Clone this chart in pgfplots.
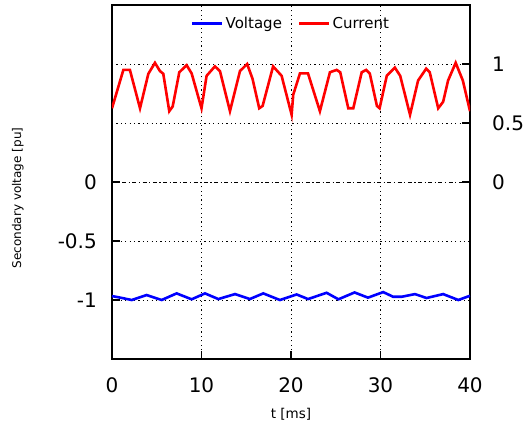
\documentclass[border=0pt]{standalone}
\usepackage{fontspec}
\setmainfont{DejaVu Sans}
\usepackage{pgfplots}
\pgfplotsset{compat=1.18}
\definecolor{vblue}{RGB}{0,0,255}
\definecolor{cred}{RGB}{255,0,0}
\newcommand{\tickfont}{\fontsize{20}{24}\selectfont}
\newcommand{\ylabfont}{\fontsize{12}{15}\selectfont}
\newcommand{\xlabfont}{\fontsize{13.5}{16}\selectfont}
\newcommand{\legfont}{\fontsize{15}{18}\selectfont}
\begin{document}
\begin{tikzpicture}
\pgfplotsset{
  common/.style={
    scale only axis, width=358pt, height=354pt,
    xmin=0, xmax=40, ymin=-1.5, ymax=1.5,
    axis line style={line width=1.1pt},
    major tick length=8pt, tick style={line width=1.1pt, black},
    tick align=inside,
    /pgf/number format/assume math mode=true,
    ticklabel style={font=\tickfont},
    grid style={black, line width=0.9pt, dash pattern=on 1.2pt off 3.2pt},
  }
}
% right-hand ticks and upper grid lines
\begin{axis}[common,
  xtick=\empty,
  ytick={0.5,1}, yticklabels={0.5,1},
  ytick pos=right, yticklabel pos=right,
  yticklabel style={inner sep=0pt, anchor=west, xshift=22pt},
  extra y ticks={0}, extra y tick labels={0},
  extra y tick style={grid=none},
  ymajorgrids,
]
\end{axis}
\begin{axis}[common, name=ax,
  xtick={0,10,20,30,40}, xticklabels={0,10,20,30,40},
  xtick pos=bottom,
  xticklabel style={inner sep=0pt, anchor=north, yshift=-18pt},
  ytick={-1,-0.5}, yticklabels={-1,-0.5},
  ytick pos=left,
  yticklabel style={inner sep=0pt, anchor=east, xshift=-15pt},
  extra y ticks={0}, extra y tick labels={0},
  extra y tick style={
    grid style={black, line width=0.9pt, dash pattern=on 4pt off 2.5pt on 1.2pt off 2.5pt}},
  xmajorgrids, ymajorgrids,
  xlabel={t [ms]},
  xlabel style={font=\xlabfont, at={(rel axis cs:0.5,0)}, anchor=center, yshift=-55pt},
  ylabel={Secondary voltage [pu]},
  ylabel style={font=\ylabfont, at={(rel axis cs:-0.263,0.455)}, anchor=center, rotate=0},
  legend columns=2,
  legend style={draw=none, fill=none, font=\legfont,
    at={(0.5,0.948)}, anchor=center,
    /tikz/every even column/.append style={column sep=14pt}},
  legend image code/.code={\draw[#1] (0pt,0pt) -- (30pt,0pt);},
]
\addplot[vblue, line width=2.6pt] coordinates {
(0,-0.967) (0.6,-0.975) (2.2,-1.0) (3.87,-0.958) (5.55,-1.0) (7.22,-0.944)
(8.9,-0.994) (10.39,-0.944) (11.88,-0.992) (13.74,-0.95) (15.4,-0.992)
(16.9,-0.944) (18.76,-1.0) (20.63,-0.953) (21.9,-0.992) (23.98,-0.939)
(25.3,-0.994) (27.1,-0.936) (28.6,-0.98) (30.3,-0.933) (31.4,-0.972)
(32.4,-0.972) (33.85,-0.95) (35.15,-0.983) (37.0,-0.95) (38.7,-1.0) (40,-0.964)
};
\addlegendentry{Voltage}
\addplot[cred, line width=2.6pt] coordinates {
(0,0.625) (1.27,0.95) (2.0,0.95) (3.13,0.625) (4.06,0.917) (4.8,1.01)
(5.36,0.94) (5.73,0.917) (6.4,0.6) (6.78,0.64) (7.52,0.93) (8.34,0.99)
(8.9,0.92) (9.83,0.67) (10.0,0.625) (10.57,0.9) (11.5,0.98) (12.06,0.94)
(13.18,0.6) (14.3,0.94) (15.1,1.0) (15.7,0.875) (16.45,0.625) (16.83,0.645)
(18.0,0.98) (18.95,0.9) (20.07,0.57) (20.25,0.74) (21.0,0.92) (21.9,0.92)
(23.23,0.6) (24.35,0.93) (25.1,0.95) (25.5,0.93) (26.4,0.625) (26.96,0.625)
(27.9,0.93) (28.4,0.95) (28.8,0.92) (29.6,0.645) (29.9,0.625) (30.7,0.9)
(31.6,0.97) (32.2,0.9) (33.3,0.57) (34.2,0.86) (35.1,0.96) (35.5,0.93)
(36.45,0.625) (37.0,0.68) (37.55,0.86) (38.4,1.01) (39.2,0.86) (40.0,0.6)
};
\addlegendentry{Current}
\end{axis}
% whitespace round the chart as in the reference
\path (ax.south west) ++(-112pt,-70pt);
\path (ax.north east) ++(56pt,5pt);
\end{tikzpicture}
\end{document}
